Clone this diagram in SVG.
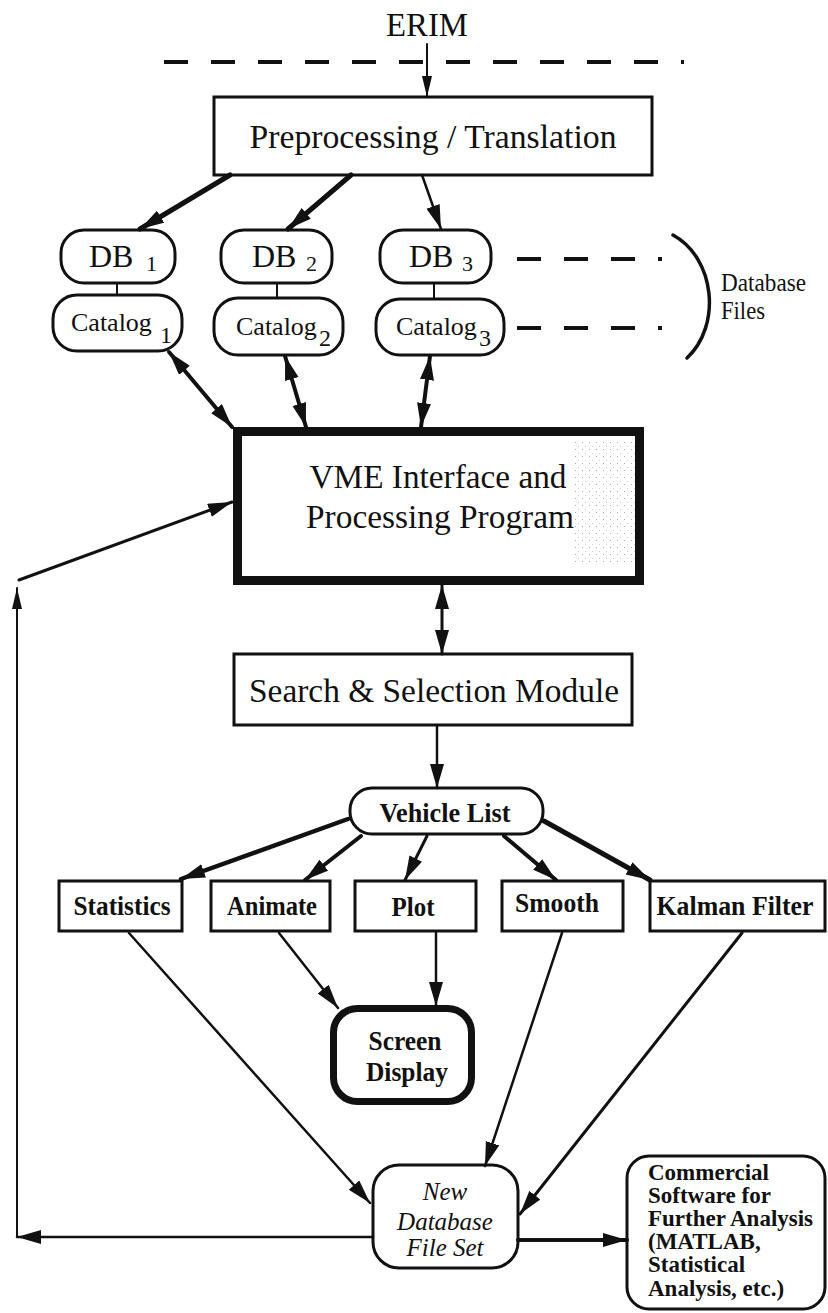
<svg xmlns="http://www.w3.org/2000/svg" width="828" height="1313" viewBox="0 0 828 1313">
<style>
text{font-family:"Liberation Serif","Times New Roman",serif;fill:#111}
.t33{font-size:34px;text-anchor:middle}
.b{font-weight:bold}
.bx{font-weight:bold;font-size:28px;text-anchor:middle}
.box{fill:#fff;stroke:#111;stroke-width:3}
.ln{fill:none;stroke:#111;stroke-linecap:round}
.dash{fill:none;stroke:#111;stroke-width:4;stroke-dasharray:24 23}
</style>
<defs>
<marker id="ah" markerUnits="userSpaceOnUse" markerWidth="26" markerHeight="16" refX="24" refY="7" orient="auto-start-reverse"><path d="M0,0 L24,7 L0,14 z" fill="#111"/></marker>
<marker id="ahs" markerUnits="userSpaceOnUse" markerWidth="22" markerHeight="12" refX="21" refY="5" orient="auto-start-reverse"><path d="M0,0 L21,5 L0,10 z" fill="#111"/></marker>
<pattern id="stip" width="7" height="7" patternUnits="userSpaceOnUse"><rect x="1" y="1" width="1" height="1" fill="#aaa"/><rect x="4" y="5" width="1" height="1" fill="#ccc"/></pattern>
</defs>

<g id="erim"><text class="t33" x="427" y="36" font-size="35" textLength="82" lengthAdjust="spacingAndGlyphs">ERIM</text></g>
<path class="dash" d="M164,62 L684,62"/>

<g id="preprocessing">
<rect class="box" x="214" y="97" width="438" height="78"/>
<text class="t33" x="433" y="148" textLength="367" lengthAdjust="spacingAndGlyphs">Preprocessing / Translation</text>
</g>

<g id="db1"><rect class="box" x="61" y="230" width="114" height="53" rx="23"/><text x="89" y="267" font-size="32">DB<tspan x="146" y="271" font-size="22">1</tspan></text></g>
<g id="db2"><rect class="box" x="221" y="230" width="111" height="53" rx="23"/><text x="252" y="267" font-size="32">DB<tspan x="306" y="271" font-size="22">2</tspan></text></g>
<g id="db3"><rect class="box" x="380" y="230" width="111" height="53" rx="23"/><text x="409" y="267" font-size="32">DB<tspan x="462" y="271" font-size="22">3</tspan></text></g>

<g id="catalog1"><rect class="box" x="53" y="295" width="129" height="56" rx="24"/><text x="71" y="331" font-size="26">Catalog<tspan x="160" y="343" font-size="24">1</tspan></text></g>
<g id="catalog2"><rect class="box" x="214" y="298" width="129" height="57" rx="24"/><text x="236" y="335" font-size="26">Catalog<tspan x="319" y="346" font-size="24">2</tspan></text></g>
<g id="catalog3"><rect class="box" x="376" y="299" width="128" height="56" rx="24"/><text x="396" y="335" font-size="26">Catalog<tspan x="479" y="346" font-size="24">3</tspan></text></g>

<g id="database-files">
<path class="dash" d="M517,259 L662,259"/>
<path class="dash" d="M517,328 L662,328"/>
<path class="ln" stroke-width="3.5" d="M673,235 C715,258 722,325 687,358"/>
<text x="721" y="291" font-size="25" textLength="85" lengthAdjust="spacingAndGlyphs">Database</text>
<text x="721" y="319" font-size="25" textLength="44" lengthAdjust="spacingAndGlyphs">Files</text>
</g>

<g id="vme">
<rect x="237.5" y="431.5" width="402" height="149" fill="#fff" stroke="#111" stroke-width="9"/>
<rect x="574" y="442" width="61" height="122" fill="url(#stip)"/>
<text class="t33" x="438" y="488" font-size="35" textLength="257" lengthAdjust="spacingAndGlyphs">VME Interface and</text>
<text class="t33" x="440" y="528" font-size="35" textLength="268" lengthAdjust="spacingAndGlyphs">Processing Program</text>
</g>

<g id="search">
<rect class="box" x="234" y="654" width="398" height="71"/>
<text class="t33" x="434" y="702" textLength="370" lengthAdjust="spacingAndGlyphs">Search &amp; Selection Module</text>
</g>

<g id="vehicle-list"><rect class="box" x="350" y="788" width="193" height="46" rx="22"/><text class="bx" x="445" y="822" font-size="27" textLength="131" lengthAdjust="spacingAndGlyphs">Vehicle List</text></g>

<g id="statistics"><rect class="box" x="59" y="881" width="123" height="50"/><text class="bx" x="122" y="915" textLength="97" lengthAdjust="spacingAndGlyphs">Statistics</text></g>
<g id="animate"><rect class="box" x="211" y="881" width="119" height="50"/><text class="bx" x="272" y="915" textLength="90" lengthAdjust="spacingAndGlyphs">Animate</text></g>
<g id="plot"><rect class="box" x="355" y="881" width="121" height="50"/><text class="bx" x="413" y="916" textLength="43" lengthAdjust="spacingAndGlyphs">Plot</text></g>
<g id="smooth"><rect class="box" x="502" y="881" width="121" height="50"/><text class="bx" x="557" y="912" textLength="84" lengthAdjust="spacingAndGlyphs">Smooth</text></g>
<g id="kalman"><rect class="box" x="650" y="881" width="175" height="50" stroke-width="4"/><text class="bx" x="735" y="915" textLength="157" lengthAdjust="spacingAndGlyphs">Kalman Filter</text></g>

<g id="screen-display"><rect x="333.5" y="1008.5" width="138" height="93" rx="24" fill="#fff" stroke="#111" stroke-width="7"/>
<text class="bx" x="405" y="1050" textLength="73" lengthAdjust="spacingAndGlyphs">Screen</text>
<text class="bx" x="407" y="1081" textLength="82" lengthAdjust="spacingAndGlyphs">Display</text></g>

<g id="new-database"><rect class="box" x="373" y="1165" width="145" height="103" rx="26"/>
<text x="445" y="1200" font-size="25" font-style="italic" text-anchor="middle">New</text>
<text x="445" y="1230" font-size="25" font-style="italic" text-anchor="middle">Database</text>
<text x="445" y="1256" font-size="25" font-style="italic" text-anchor="middle">File Set</text></g>

<g id="commercial"><rect class="box" x="627" y="1156" width="198" height="153" rx="22" stroke-width="3.5"/>
<text class="b" x="648" y="1180" font-size="23">Commercial</text>
<text class="b" x="648" y="1203" font-size="23">Software for</text>
<text class="b" x="648" y="1226" font-size="23">Further Analysis</text>
<text class="b" x="648" y="1249" font-size="23">(MATLAB,</text>
<text class="b" x="648" y="1272" font-size="23">Statistical</text>
<text class="b" x="648" y="1296" font-size="23">Analysis, etc.)</text></g>

<g id="connectors">
<path class="ln" stroke-width="2" d="M427,44 L427,97" marker-end="url(#ahs)"/>
<path class="ln" stroke-width="5" d="M230,175 L140,229" marker-end="url(#ah)"/>
<path class="ln" stroke-width="5" d="M351,175 L288,229" marker-end="url(#ah)"/>
<path class="ln" stroke-width="2.5" d="M422,175 L441,229" marker-end="url(#ah)"/>
<path class="ln" stroke-width="2" d="M117,283 L117,295"/>
<path class="ln" stroke-width="2" d="M277,283 L277,298"/>
<path class="ln" stroke-width="2" d="M434,283 L434,299"/>
<path class="ln" stroke-width="4" d="M169,352 L232,427" marker-start="url(#ah)" marker-end="url(#ah)"/>
<path class="ln" stroke-width="4" d="M285,356 L306,427" marker-start="url(#ah)" marker-end="url(#ah)"/>
<path class="ln" stroke-width="4" d="M430,356 L421,427" marker-start="url(#ah)" marker-end="url(#ah)"/>
<path class="ln" stroke-width="3" d="M442,585 L442,654" marker-start="url(#ah)" marker-end="url(#ah)"/>
<path class="ln" stroke-width="2.5" d="M437,725 L437,788" marker-end="url(#ah)"/>
<path class="ln" stroke-width="4.5" d="M348,819 L181,879" marker-end="url(#ah)"/>
<path class="ln" stroke-width="4" d="M361,836 L305,880" marker-end="url(#ah)"/>
<path class="ln" stroke-width="3" d="M427,836 L405,880" marker-end="url(#ah)"/>
<path class="ln" stroke-width="4" d="M504,836 L556,880" marker-end="url(#ah)"/>
<path class="ln" stroke-width="5" d="M544,821 L650,880" marker-end="url(#ah)"/>
<path class="ln" stroke-width="2.5" d="M279,933 L338,1008" marker-end="url(#ah)"/>
<path class="ln" stroke-width="2.5" d="M436,933 L436,1006" marker-end="url(#ah)"/>
<path class="ln" stroke-width="2.5" d="M129,933 L370,1203" marker-end="url(#ah)"/>
<path class="ln" stroke-width="2.5" d="M562,933 L485,1166" marker-end="url(#ah)"/>
<path class="ln" stroke-width="3" d="M742,933 L520,1214" marker-end="url(#ah)"/>
<path class="ln" stroke-width="4" d="M518,1240 L627,1240" marker-end="url(#ah)"/>
<path class="ln" stroke-width="2.5" d="M373,1237 L17,1237" marker-end="url(#ah)"/>
<path class="ln" stroke-width="2" d="M17,1237 L17,588" marker-end="url(#ahs)"/>
<path class="ln" stroke-width="3" d="M19,580 L232,502" marker-end="url(#ah)"/>
</g>
</svg>
